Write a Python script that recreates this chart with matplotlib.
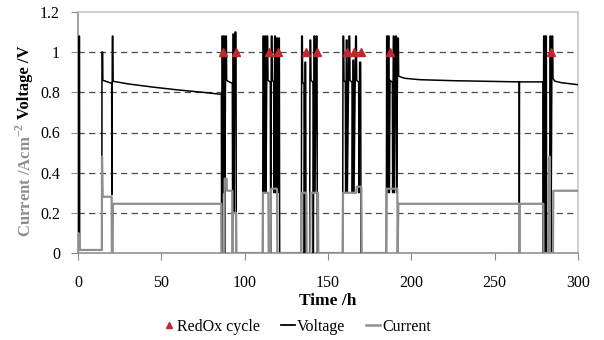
import matplotlib
matplotlib.use("Agg")
import matplotlib.pyplot as plt
from matplotlib.lines import Line2D

plt.rcParams['font.family'] = ['Liberation Serif', 'DejaVu Serif']
plt.rcParams['mathtext.fontset'] = 'custom'
plt.rcParams['mathtext.rm'] = 'Liberation Serif'
plt.rcParams['mathtext.bf'] = 'Liberation Serif:bold'

# voltage trace (time /h, V)
volt_t = [0.0, 0.5, 0.6, 0.9, 1.0, 14.3, 14.4, 14.8, 14.9, 20.2, 20.3, 20.6, 20.9, 21.1,
          30.0, 45.0, 60.0, 75.0, 86.0,
          86.2, 86.4, 86.8, 87.0, 87.4, 87.8, 88.0, 88.6, 89.0, 89.2, 90.0, 92.6, 92.8,
          93.0, 93.4, 93.6, 94.2, 94.8, 95.0, 110.8,
          111.0, 111.4, 111.6, 112.2, 112.6, 112.8, 113.4, 113.8, 114.0, 115.4, 115.6,
          116.0, 116.4, 116.6, 117.4, 117.6, 118.0, 118.4, 118.6, 119.2, 119.6, 119.8,
          120.4, 120.8, 121.0, 134.0,
          134.2, 134.6, 134.8, 135.6, 135.8, 136.2, 136.6, 136.8, 139.0, 139.2, 139.6,
          139.8, 141.0, 141.2, 141.6, 142.0, 142.2, 143.0, 143.4, 143.6, 158.8,
          159.0, 159.4, 159.6, 160.4, 160.6, 161.0, 161.4, 161.6, 162.6, 163.0, 163.2,
          164.4, 164.6, 165.0, 165.4, 165.6, 166.6, 167.0, 167.2, 168.4, 168.6, 169.0,
          169.6, 169.8, 185.0,
          185.2, 185.6, 185.8, 186.2, 186.6, 186.8, 187.2, 188.6, 188.8, 189.2, 189.6,
          189.8, 190.6, 191.0, 191.2, 191.8, 192.2, 192.4, 196.0, 205.0, 225.0, 245.0,
          264.7, 264.8, 264.9, 279.0,
          279.2, 279.4, 280.0, 280.2, 280.6, 281.0, 281.2, 283.0, 283.2, 283.6, 283.8,
          284.4, 284.8, 285.0, 286.0, 290.0, 300.0]
volt_v = [0.10, 0.10, 1.08, 1.08, 0.015, 0.015, 1.00, 1.00, 0.86, 0.845, 0.29, 1.08, 1.08, 0.855,
          0.842, 0.826, 0.812, 0.80, 0.79,
          0.0, 1.08, 1.08, 0.30, 1.08, 1.08, 0.0, 1.08, 1.08, 0.86, 0.855, 0.845, 0.0,
          1.09, 1.09, 0.20, 1.10, 1.10, 0.0, 0.0,
          1.08, 1.08, 0.30, 1.08, 1.08, 0.30, 1.08, 1.08, 0.86, 0.85, 0.0,
          1.08, 1.08, 0.86, 0.85, 0.30, 1.08, 1.08, 0.30, 1.07, 1.07, 0.30,
          1.07, 1.07, 0.0, 0.0,
          1.08, 1.08, 0.85, 0.84, 0.0, 0.95, 0.95, 0.0, 0.0, 1.06, 1.06,
          0.86, 0.85, 0.0, 1.08, 1.08, 0.30, 1.08, 1.08, 0.0, 0.0,
          1.08, 1.08, 0.86, 0.85, 0.30, 1.06, 1.06, 0.30, 1.08, 1.08, 0.86,
          0.85, 0.30, 0.96, 0.96, 0.30, 1.08, 1.08, 0.86, 0.85, 0.30, 0.95,
          0.95, 0.0, 0.0,
          1.08, 1.08, 0.30, 1.08, 1.08, 0.30, 0.86, 0.85, 0.30, 1.08, 1.08,
          0.30, 1.08, 1.08, 0.30, 1.07, 1.07, 0.88, 0.87, 0.863, 0.858, 0.855,
          0.852, 0.0, 0.852, 0.852,
          0.0, 1.08, 1.08, 0.0, 1.08, 1.08, 0.0, 0.0, 1.08, 1.08, 0.0,
          1.08, 1.08, 0.87, 0.856, 0.848, 0.838]

# current density trace (time /h, A/cm2)
curr_t = [0.0, 0.2, 0.6, 14.3, 14.4, 14.8, 20.2, 20.3, 20.8, 21.0, 86.0,
          86.2, 87.8, 88.0, 89.2, 89.4, 92.6, 92.8, 93.0, 94.8, 95.0, 110.8,
          111.0, 114.2, 114.4, 115.6, 115.8, 119.4, 119.6, 134.0,
          134.2, 137.0, 137.2, 139.4, 139.6, 144.0, 144.2, 158.8,
          159.0, 167.0, 167.2, 170.0, 170.2, 185.0,
          185.2, 191.6, 191.8, 192.2, 264.7, 264.8, 264.9, 279.2,
          279.3, 282.8, 282.9, 283.0, 285.0, 285.2, 300.0]
curr_i = [0.0, 0.10, 0.015, 0.015, 0.48, 0.28, 0.28, 0.0, 0.0, 0.245, 0.245,
          0.0, 0.0, 0.37, 0.37, 0.31, 0.31, 0.0, 0.20, 0.20, 0.0, 0.0,
          0.30, 0.30, 0.0, 0.0, 0.32, 0.32, 0.0, 0.0,
          0.30, 0.30, 0.0, 0.0, 0.30, 0.30, 0.0, 0.0,
          0.30, 0.30, 0.33, 0.33, 0.0, 0.0,
          0.32, 0.32, 0.0, 0.245, 0.245, 0.0, 0.245, 0.245,
          0.0, 0.0, 0.48, 0.0, 0.0, 0.31, 0.31]

# RedOx cycle markers
redox_t = [87.0, 94.8, 114.6, 120.2, 136.9, 143.6, 161.5, 165.7, 169.8, 187.2, 284.0]
redox_v = [1.0] * len(redox_t)

x_ticks = [0, 50, 100, 150, 200, 250, 300]
y_ticks = [0, 0.2, 0.4, 0.6, 0.8, 1.0, 1.2]
y_labels = ["0", "0.2", "0.4", "0.6", "0.8", "1", "1.2"]

gray = "#8e8e8e"
red = "#c0282d"

fig = plt.figure(figsize=(6.04, 3.4), dpi=100)
ax = fig.add_axes([78 / 604, 1 - 253 / 340, 500 / 604, 241 / 340])

ax.plot(volt_t, volt_v, color="black", lw=1.1, zorder=3)
ax.plot(curr_t, curr_i, color=gray, lw=1.6, zorder=4)
ax.plot(redox_t, redox_v, linestyle="none", marker="^", color=red, ms=6, zorder=5)

ax.set_xlim(0, 300)
ax.set_ylim(0, 1.2)
ax.set_xticks(x_ticks)
ax.set_yticks(y_ticks)
ax.set_yticklabels(y_labels)
ax.tick_params(axis="x", direction="out", length=5, color="#888888", pad=10.5, labelsize=11.5)
ax.tick_params(axis="y", direction="out", length=5, color="#888888", pad=8, labelsize=11.5)

ax.grid(axis="y", linestyle=(0, (5, 3.5)), color="#4a4a4a", lw=0.9, zorder=1)
grid_lines = ax.get_ygridlines()
grid_lines[0].set_visible(False)
grid_lines[-1].set_visible(False)

ax.spines["top"].set_color("#c4c4c4")
ax.spines["right"].set_color("#c4c4c4")
ax.spines["left"].set_color("#888888")
ax.spines["bottom"].set_color("#888888")
for s in ax.spines.values():
    s.set_linewidth(1.1)

ax.set_xlabel("Time /h", fontsize=12.5, fontweight="bold", labelpad=2)

fig.text(25 / 604, 1 - 123 / 340, "Current /Acm$^{\\mathbf{-2}}$", rotation=90, ha="center",
         va="top", color=gray, fontsize=12, fontweight="bold")
fig.text(25 / 604, 1 - 119 / 340, "Voltage /V", rotation=90, ha="center", va="bottom",
         color="black", fontsize=12, fontweight="bold")

handles = [
    Line2D([], [], linestyle="none", marker="^", color=red, ms=5),
    Line2D([], [], color="black", lw=1.3),
    Line2D([], [], color=gray, lw=1.8),
]
fig.legend(handles, ["RedOx cycle", "Voltage", "Current"], loc="center",
           bbox_to_anchor=(296 / 604, 1 - 327 / 340), ncol=3, frameon=False,
           fontsize=11.5, handlelength=0.9, handletextpad=0.1, columnspacing=1.3)

fig.savefig("out.png", dpi=100)
